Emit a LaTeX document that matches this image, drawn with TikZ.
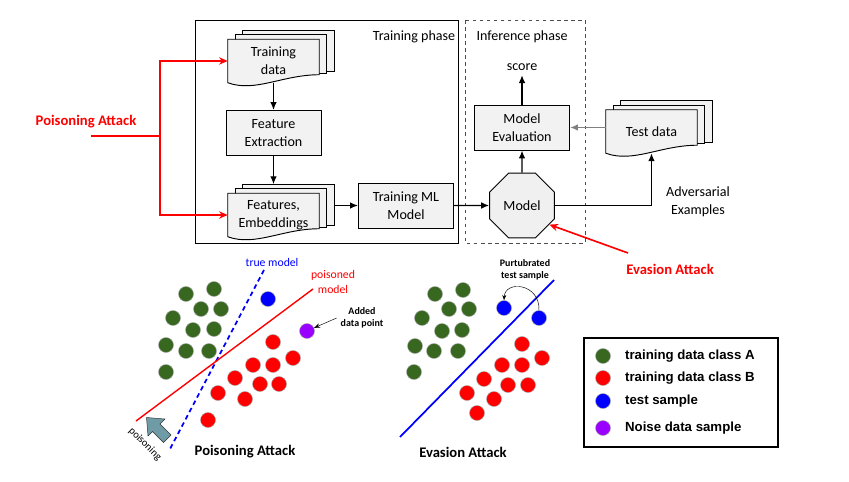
\documentclass[tikz,border=0pt]{standalone}
\usepackage{fontspec}
\setmainfont{Carlito}
\newfontfamily\legendfont{Liberation Sans}
\usetikzlibrary{arrows.meta,shapes.geometric,backgrounds,positioning,calc}

\definecolor{classA}{RGB}{56,104,32}
\definecolor{classB}{RGB}{255,0,0}
\definecolor{testblue}{RGB}{0,0,255}
\definecolor{noisepurple}{RGB}{153,0,255}
\definecolor{pushcolor}{RGB}{110,155,165}
\colorlet{boxgray}{gray!10}

\tikzstyle{box}=[draw, line width=0.8pt, fill=boxgray, minimum width=2.85cm,
  minimum height=1.35cm, align=center]
\tikzstyle{doc}=[minimum width=2.73cm, minimum height=1.29cm, align=center, inner sep=0pt]
\tikzstyle{octa}=[draw, line width=0.8pt, fill=gray!12, regular polygon,
  regular polygon sides=8, minimum size=2.1cm, inner sep=0pt]
\tikzstyle{sample}=[circle, draw=gray!70, thin, minimum size=0.45cm, inner sep=0pt]
\tikzstyle{sampleA}=[sample, fill=classA]
\tikzstyle{sampleB}=[sample, fill=classB]
\tikzstyle{sampleT}=[sample, fill=testblue]
\tikzstyle{sampleN}=[sample, fill=noisepurple]
\tikzstyle{flow}=[->, line width=1.2pt]
\tikzstyle{attack}=[red, line width=1.4pt, >={Stealth[length=2.6mm,width=2.2mm]}]
\tikzstyle{note}=[font=\fontsize{8.5}{10.5}\selectfont\bfseries, align=center]
\tikzstyle{caption}=[font=\fontsize{12.5}{15}\selectfont\bfseries]

% stacked document drawn behind a doc node
\newcommand{\docshape}[1]{%
  \begin{scope}[on background layer]
    \foreach \s in {2,1}
      \draw[line width=0.8pt, fill=boxgray] ([shift={(7.5*\s,-4.5*\s)}]#1.north west)
        rectangle ([shift={(7.5*\s,-8-1.5*\s)}]#1.south east);
    \draw[line width=0.8pt, fill=boxgray] (#1.north west) -- (#1.north east)
      -- ([shift={(0,-8)}]#1.south east)
      .. controls ($(#1.south west)!0.6!(#1.south east)+(0,-8)$)
      and ($(#1.south west)!0.3!(#1.south east)+(0,10)$) .. (#1.south west) -- cycle;
  \end{scope}}

\begin{document}
\begin{tikzpicture}[x=0.03cm, y=-0.03cm, on grid, >={Latex[length=2.4mm,width=2mm]},
  font=\fontsize{12}{15}\selectfont]
  \useasboundingbox (0,0) rectangle (849,482);

  % phases
  \draw[line width=0.8pt] (195,20) rectangle (458,243);
  \node (trphase) at (414,37) {Training phase};
  \draw[line width=0.8pt, dashed, gray!60!black] (465,20) rectangle (585,243);
  \node (infphase) at (522,37) {Inference phase};

  % training pipeline
  \node[doc] (trdata) at (273.5,61) {Training\\data};
  \node[box, below=2.16cm of trdata] (featext) {Feature\\Extraction};
  \node[doc, below=2.46cm of featext] (features) {Features,\\Embeddings};
  \node[box] (trainml) at (406,205.5) {Training ML\\Model};
  \docshape{trdata}
  \docshape{features}

  % inference
  \node[octa, right=3.48cm of trainml] (model) {Model};
  \node[box, above=2.34cm of model] (evalbox) {Model\\Evaluation};
  \node[above=1.8cm of evalbox] (score) {score};
  \node[doc] (testdata) at (651.5,131.5) {Test data};
  \docshape{testdata}
  \node[align=center] (advlbl) at (698,202) {Adversarial\\Examples};

  \draw[flow] (trdata.south) -- (featext.north);
  \draw[flow] (featext.south) -- ([shift={(0,-9)}]features.north);
  \draw[flow] ($(features.east |- trainml.west)+(15,0)$) -- (trainml.west);
  \draw[flow] (trainml.east) -- (model.west);
  \draw[flow] (model.north) -- (evalbox.south);
  \draw[flow] (evalbox.north) -- (score.south);
  \draw[flow, gray] (testdata.west |- evalbox.east) -- (evalbox.east);
  \draw[flow] (model.east) -| (testdata.south);

  % attacks
  \node[caption, text=red] (poison) at (86,122) {Poisoning Attack};
  \coordinate (ptail) at (91,136);
  \coordinate (pjoin) at (160,136);
  \draw[attack] (ptail) -- (pjoin);
  \draw[attack, ->] (pjoin) |- (trdata.west);
  \draw[attack, ->] (pjoin) |- (features.west);
  \node[caption, text=red] (evasion) at (670,269) {Evasion Attack};
  \coordinate (evtail) at (628,253);
  \draw[attack, ->] (evtail) -- (model.-35);

  % poisoning scatter
  \draw[blue, line width=1.5pt, dash pattern=on 4pt off 3pt] (264,270) -- (170,449);
  \draw[red, line width=1.2pt] (313,289) -- (136,421);
  \foreach \x/\y in {186/294,214/289,201/309,221/309,173/318,193/330,214/329,
    166/345,186/351,209/351,166/372}
    \node[sampleA] at (\x,\y) {};
  \foreach \x/\y in {273/342,293/358,253/365,273/365,235/378,260/384,279/384,
    218/393,245/399,208/420}
    \node[sampleB] at (\x,\y) {};
  \node[sampleT] (ptest) at (268,299) {};
  \node[sampleN] (noise) at (307,331) {};
  \node[text=blue, font=\fontsize{10}{12.5}\selectfont] (truelbl) at (272,262) {true model};
  \node[text=red, align=center, font=\fontsize{10}{12.5}\selectfont] (poislbl) at (333,282) {poisoned\\model};
  \node[note] (addlbl) at (362,318) {Added\\data point};
  \draw[->, >={Stealth[length=1.8mm]}] (addlbl.west) -- (noise);
  % block arrow pushing the boundary
  \draw[thin, draw=black!80, fill=pushcolor] (146.5,417.5) -- (165,419) -- (160,424)
    -- (171,435) -- (163.5,442.5) -- (152.5,431.5) -- (148,436) -- cycle;
  \node[rotate=-45, font=\fontsize{9}{11}\selectfont] (pushlbl) at (145,444) {poisoning};
  \node[caption] (poiscap) at (245,452) {Poisoning Attack};

  % evasion scatter
  \draw[blue, line width=1.5pt] (554,280) -- (400,437);
  \foreach \x/\y in {435/294,463/290,449/309,469/309,422/318,442/331,462/330,
    415/346,434/351,458/351,414/372}
    \node[sampleA] at (\x,\y) {};
  \foreach \x/\y in {522/344,542/358,502/365,522/365,484/379,508/385,528/385,
    467/393,494/399,477/413}
    \node[sampleB] at (\x,\y) {};
  \node[sampleT] (evnew) at (504,308) {};
  \node[sampleT] (evold) at (539,318) {};
  \draw[->, thin, >={Stealth[length=1.6mm]}] (evold.north) .. controls (540,283) and (505,280) .. (evnew.north);
  \node[note] (pertlbl) at (525,270) {Purtubrated\\test sample};
  \node[caption] (evcap) at (463,452) {Evasion Attack};

  % legend
  \draw[line width=0.9pt] (584,338) rectangle (778,447);
  \foreach \st/\y/\txt in {sampleA/356/training data class A,sampleB/378/training data class B,
    sampleT/401/test sample,sampleN/428/Noise data sample}{
    \node[\st] at (603,\y) {};
    \node[anchor=west, font=\legendfont\fontsize{11.3}{13}\selectfont\bfseries] at (621,\y) {\txt};
  }
\end{tikzpicture}
\end{document}
